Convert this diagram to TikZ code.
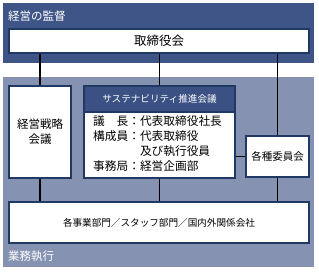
\documentclass[tikz,border=0pt]{standalone}
\usepackage{fontspec}
\setmainfont{Noto Sans CJK JP}
\definecolor{banddark}{HTML}{3F5587}
\definecolor{bandlight}{HTML}{8592B2}
\definecolor{boxline}{HTML}{1F3864}
\definecolor{headfill}{HTML}{3B5183}
\begin{document}
\begin{tikzpicture}[x=1pt,y=-1pt,
  box/.style={draw=boxline,line width=1.1pt,fill=white,inner sep=0pt,align=center,font=\fontsize{11.5}{15}\selectfont},
  conn/.style={draw=black,line width=1.1pt},
  bandlabel/.style={text=white,anchor=west,inner sep=0pt,font=\fontsize{11.5}{13}\selectfont}]
\useasboundingbox (0,0) rectangle (319,273);
\fill[banddark] (3,3) rectangle (314,63);
\fill[bandlight] (3,77) rectangle (314,267);
\node[bandlabel] (top) at (8,16) {経営の監督};
\node[bandlabel] (exec) at (8,256) {業務執行};
\node[box,minimum width=300pt,minimum height=24pt,font=\fontsize{12.5}{14}\selectfont] (board) at (159,41) {取締役会};
\node[box,minimum width=62pt,minimum height=92pt] (strat) at (40,132) {経営戦略\\会議};
\node[box,minimum width=151pt,minimum height=92pt] (sus) at (159.5,132) {};
\node[box,fill=headfill,text=white,minimum width=151pt,minimum height=26pt,font=\fontsize{9.6}{12}\selectfont] (head) at (159.5,99) {サステナビリティ推進会議};
\node[inner sep=0pt,anchor=north west,font=\fontsize{11.7}{15}\selectfont] (members) at (93,114.5)
  {\begin{tabular}{@{}l@{}l@{}}議\hspace{1em}長：&代表取締役社長\\構成員：&代表取締役\\&及び執行役員\\事務局：&経営企画部\end{tabular}};
\node[box,minimum width=63pt,minimum height=41pt,font=\fontsize{10.5}{12}\selectfont] (comm) at (277.5,156.5) {各種委員会};
\node[box,minimum width=300pt,minimum height=41pt,font=\fontsize{9.6}{12}\selectfont] (bottom) at (159,222.5) {各事業部門／スタッフ部門／国内外関係会社};
\draw[conn] (strat.north) -- (strat.north |- board.south);
\draw[conn] (head.north) -- (head.north |- board.south);
\draw[conn] (comm.north) -- (comm.north |- board.south);
\draw[conn] (sus.east |- comm.west) -- (comm.west);
\draw[conn] (strat.south) -- (strat.south |- bottom.north);
\draw[conn] (sus.south) -- (sus.south |- bottom.north);
\draw[conn] (comm.south) -- (comm.south |- bottom.north);
\end{tikzpicture}
\end{document}
